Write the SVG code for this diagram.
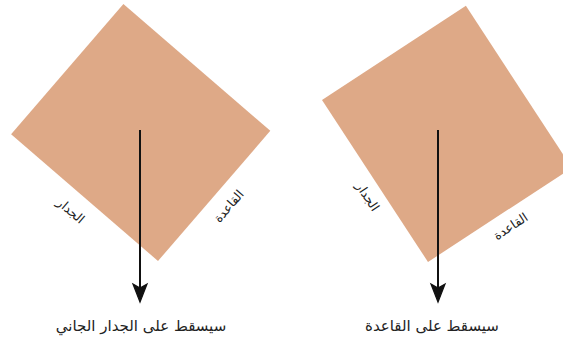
<svg xmlns="http://www.w3.org/2000/svg" width="563" height="338" viewBox="0 0 563 338">
<style>
.box{fill:#DEA987;stroke:none}
.lbl{font-family:"DejaVu Sans",sans-serif;font-size:12.5px;fill:#222;text-anchor:middle}
.cap{font-family:"DejaVu Sans",sans-serif;font-size:15px;fill:#222;text-anchor:middle}
.arr{stroke:#111;stroke-width:2;fill:none}
.head{fill:#111;stroke:#111;stroke-width:1.2;stroke-linejoin:miter}
</style>
<rect width="563" height="338" fill="#fff"/>
<g id="left-block">
<polygon class="box" points="123.4,4.1 270.3,130.8 158,261 11.1,134.3"/>
<text class="lbl" transform="translate(68,214) rotate(40.8)" direction="rtl">الجدار</text>
<text class="lbl" transform="translate(232,209) rotate(-49.2)" direction="rtl">القاعدة</text>
<text class="cap" x="141" y="331" direction="rtl">سيسقط على الجدار الجاني</text>
</g>
<g id="right-block">
<polygon class="box" points="465.9,5.8 571.9,167.8 428,262 322,100"/>
<text class="lbl" transform="translate(364,199) rotate(56.8)" direction="rtl">الجدار</text>
<text class="lbl" transform="translate(513,230) rotate(-33.2)" direction="rtl">القاعدة</text>
<text class="cap" x="432" y="331" direction="rtl">سيسقط على القاعدة</text>
</g>
<g id="connectors">
<line class="arr" x1="140" y1="130" x2="140" y2="290"/>
<polygon class="head" points="133,284 140,288 147,284 140,302"/>
<line class="arr" x1="438" y1="130" x2="438" y2="290"/>
<polygon class="head" points="431,284 438,288 445,284 438,302"/>
</g>
</svg>
